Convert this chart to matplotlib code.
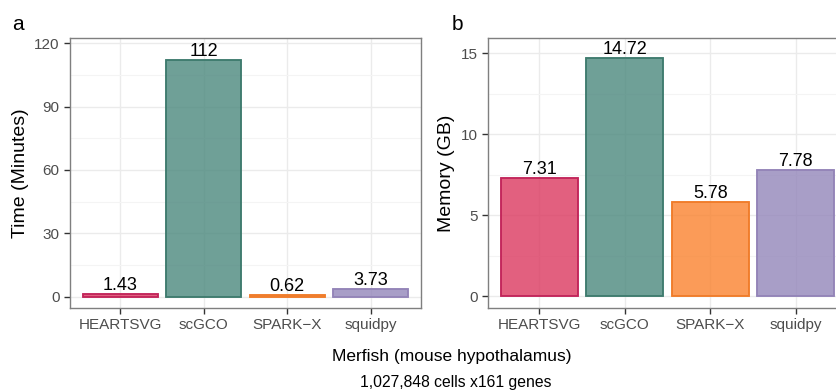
import numpy as np
import matplotlib.pyplot as plt
from matplotlib.ticker import MultipleLocator

plt.rcParams['font.family'] = ['Liberation Sans', 'DejaVu Sans']

metodos = ["HEARTSVG", "scGCO", "SPARK\u2212X", "squidpy"]
tiempo = [1.43, 112, 0.62, 3.73]
memoria = [7.31, 14.72, 5.78, 7.78]
etiquetas_tiempo = ["1.43", "112", "0.62", "3.73"]
etiquetas_memoria = ["7.31", "14.72", "5.78", "7.78"]

relleno = ["#DB385F", "#4B887D", "#FA822E", "#9386BA"]
borde = ["#C2255A", "#3F7B6E", "#F07C2A", "#9384B8"]

fig = plt.figure(figsize=(8.37, 3.92), dpi=100)
W, H = 837, 392


def ejes(x0, y0, x1, y1):
    return fig.add_axes([x0 / W, 1 - y1 / H, (x1 - x0) / W, (y1 - y0) / H])


def panel(ax, valores, etiquetas, ylim, paso, ylabel):
    x = np.arange(1, len(metodos) + 1)
    ax.set_axisbelow(True)
    ax.yaxis.set_major_locator(MultipleLocator(paso))
    ax.yaxis.set_minor_locator(MultipleLocator(paso / 2))
    ax.grid(True, which="major", color="#EBEBEB", lw=1.0)
    ax.grid(True, which="minor", axis="y", color="#F4F4F4", lw=0.8)
    ax.bar(x, valores, width=0.9, color=relleno, edgecolor=borde, lw=1.2, alpha=0.8)
    ax.bar(x, valores, width=0.9, color="none", edgecolor=borde, lw=1.2)
    for xi, v, t in zip(x, valores, etiquetas):
        ax.text(xi, v, t, ha="center", va="bottom", fontsize=13, color="black")
    ax.set_xlim(0.4, 4.6)
    ax.set_ylim(*ylim)
    ax.set_xticks(x)
    ax.set_xticklabels(metodos)
    ax.set_ylabel(ylabel, fontsize=14, labelpad=4)
    ax.tick_params(axis="both", which="major", labelsize=11, labelcolor="#4D4D4D",
                   color="#333333", length=4, width=1)
    ax.tick_params(axis="y", which="minor", length=0)
    for s in ax.spines.values():
        s.set_color("#7F7F7F")
        s.set_linewidth(1.0)


ax1 = ejes(70, 38, 421, 308)
panel(ax1, tiempo, etiquetas_tiempo, (-5.3, 122.4), 30, "Time (Minutes)")

ax2 = ejes(488, 38, 847, 308)
panel(ax2, memoria, etiquetas_memoria, (-0.74, 15.93), 5, "Memory (GB)")

fig.text(12 / W, 1 - 24 / H, "a", fontsize=15, va="center", ha="left")
fig.text(452 / W, 1 - 24 / H, "b", fontsize=15, va="center", ha="left")
fig.text(452 / W, 1 - 356 / H, "Merfish (mouse hypothalamus)", fontsize=12.5,
         ha="center", va="center")
fig.text(456 / W, 1 - 382 / H, "1,027,848 cells x161 genes", fontsize=11.3,
         ha="center", va="center")

fig.savefig("out.png", dpi=100)
